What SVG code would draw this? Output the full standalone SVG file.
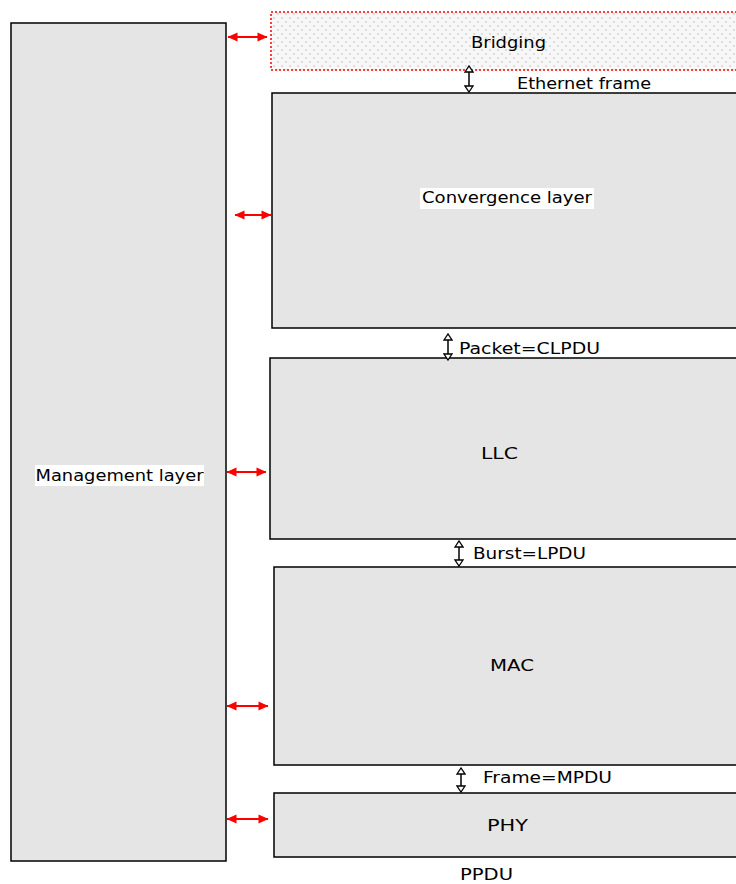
<svg xmlns="http://www.w3.org/2000/svg" width="736" height="884" viewBox="0 0 736 884">
  <style>
    .box { fill: #e5e5e5; stroke: #000; stroke-width: 1.5; }
    .lbl { font-family: "DejaVu Sans", Verdana, sans-serif; font-size: 16px; fill: #000; }
    .red { stroke: #ff0000; stroke-width: 2; fill: none; }
    .blk { stroke: #000; stroke-width: 1.5; fill: none; }
    .bg { fill: #fff; }
  </style>
  <defs>
    <pattern id="dots" width="8" height="8" patternUnits="userSpaceOnUse">
      <rect width="8" height="8" fill="#f7f7f7"/>
      <circle cx="2" cy="2" r="0.9" fill="#d0d0d0"/>
      <circle cx="6" cy="6" r="0.9" fill="#d0d0d0"/>
    </pattern>
    <marker id="rh" viewBox="0 0 10 10" refX="9.5" refY="5" markerWidth="11" markerHeight="10" orient="auto-start-reverse" markerUnits="userSpaceOnUse">
      <path d="M0,0.5 L10,5 L0,9.5 Z" fill="#ff0000"/>
    </marker>
    <marker id="bh" viewBox="0 0 8 10" refX="7" refY="5" markerWidth="8" markerHeight="10" orient="auto-start-reverse" markerUnits="userSpaceOnUse">
      <path d="M1,1 L7,5 L1,9 Z" fill="#fff" stroke="#000" stroke-width="1.3"/>
    </marker>
  </defs>

  <g id="management">
    <rect class="box" x="11" y="23" width="215" height="838"/>
    <rect class="bg" x="35" y="465" width="169" height="21"/>
    <text class="lbl" x="119.5" y="481" text-anchor="middle" textLength="168" lengthAdjust="spacingAndGlyphs">Management layer</text>
  </g>

  <g id="bridging">
    <rect x="271" y="12" width="470" height="58" fill="url(#dots)" stroke="#ff0000" stroke-width="1.5" stroke-dasharray="2,2"/>
    <text class="lbl" x="508.5" y="48" text-anchor="middle" textLength="75" lengthAdjust="spacingAndGlyphs">Bridging</text>
  </g>

  <g id="convergence">
    <rect class="box" x="272" y="93" width="470" height="235"/>
    <rect class="bg" x="420" y="188" width="174" height="21"/>
    <text class="lbl" x="507" y="203" text-anchor="middle" textLength="170" lengthAdjust="spacingAndGlyphs">Convergence layer</text>
  </g>

  <g id="llc">
    <rect class="box" x="270" y="358" width="472" height="181"/>
    <text class="lbl" x="499.5" y="459" text-anchor="middle" textLength="37" lengthAdjust="spacingAndGlyphs">LLC</text>
  </g>

  <g id="mac">
    <rect class="box" x="274" y="567" width="468" height="198"/>
    <text class="lbl" x="512" y="671" text-anchor="middle" textLength="44" lengthAdjust="spacingAndGlyphs">MAC</text>
  </g>

  <g id="phy">
    <rect class="box" x="274" y="793" width="468" height="64"/>
    <text class="lbl" x="507.5" y="831" text-anchor="middle" textLength="41" lengthAdjust="spacingAndGlyphs">PHY</text>
  </g>

  <g id="connectors">
    <!-- management links -->
    <line class="red" x1="228" y1="37" x2="267" y2="37" marker-start="url(#rh)" marker-end="url(#rh)"/>
    <line class="red" x1="235" y1="215" x2="271" y2="215" marker-start="url(#rh)" marker-end="url(#rh)"/>
    <line class="red" x1="227" y1="472" x2="266" y2="472" marker-start="url(#rh)" marker-end="url(#rh)"/>
    <line class="red" x1="227" y1="706" x2="268" y2="706" marker-start="url(#rh)" marker-end="url(#rh)"/>
    <line class="red" x1="227" y1="819" x2="268" y2="819" marker-start="url(#rh)" marker-end="url(#rh)"/>
    <!-- data units between layers -->
    <line class="blk" x1="469" y1="66" x2="469" y2="92" marker-start="url(#bh)" marker-end="url(#bh)"/>
    <line class="blk" x1="448" y1="334" x2="448" y2="360" marker-start="url(#bh)" marker-end="url(#bh)"/>
    <line class="blk" x1="459" y1="541" x2="459" y2="566" marker-start="url(#bh)" marker-end="url(#bh)"/>
    <line class="blk" x1="461" y1="768" x2="461" y2="792" marker-start="url(#bh)" marker-end="url(#bh)"/>
  </g>

  <g id="labels">
    <text class="lbl" x="517" y="89" textLength="134" lengthAdjust="spacingAndGlyphs">Ethernet frame</text>
    <text class="lbl" x="459" y="354" textLength="141" lengthAdjust="spacingAndGlyphs">Packet=CLPDU</text>
    <text class="lbl" x="473" y="559" textLength="113" lengthAdjust="spacingAndGlyphs">Burst=LPDU</text>
    <text class="lbl" x="483" y="783" textLength="129" lengthAdjust="spacingAndGlyphs">Frame=MPDU</text>
    <text class="lbl" x="460" y="880" textLength="53" lengthAdjust="spacingAndGlyphs">PPDU</text>
  </g>
</svg>
